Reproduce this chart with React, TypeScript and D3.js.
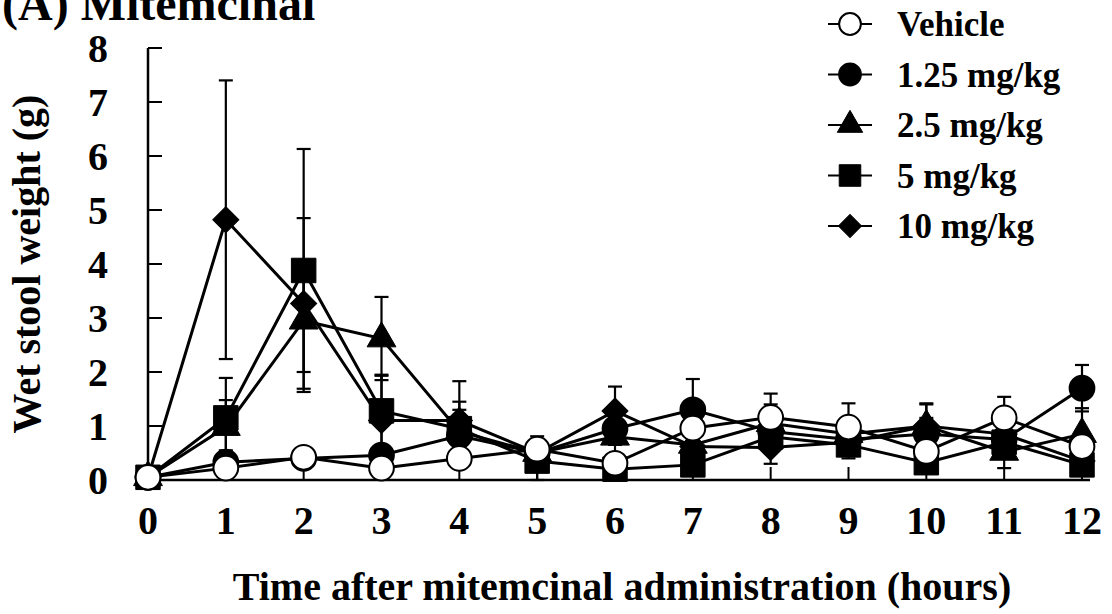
import React from "react";
import * as d3 from "d3";

const hours = [0, 1, 2, 3, 4, 5, 6, 7, 8, 9, 10, 11, 12];
const yTicks = [0, 1, 2, 3, 4, 5, 6, 7, 8];

const vehicle = [0.05, 0.22, 0.42, 0.22, 0.4, 0.57, 0.31, 0.96, 1.16, 0.98, 0.53, 1.15, 0.62];
const vehicleErr = [0.02, 0.05, 0.1, 0.05, 0.1, 0.1, 0.08, 0.1, 0.44, 0.44, 0.1, 0.39, 0.1];

const dose125 = [0.05, 0.33, 0.4, 0.46, 0.82, 0.5, 0.95, 1.3, 0.9, 0.75, 0.85, 0.75, 1.7];
const dose125Err = [0.02, 0.22, 0.1, 0.1, 0.3, 0.1, 0.3, 0.57, 0.3, 0.3, 0.3, 0.3, 0.43];

const dose25 = [0.05, 0.98, 2.95, 2.62, 0.9, 0.5, 0.8, 0.65, 1.05, 0.85, 1.0, 0.52, 0.85];
const dose25Err = [0.02, 0.5, 0.95, 0.77, 0.4, 0.2, 0.4, 0.3, 0.35, 0.3, 0.42, 0.3, 0.48];

const dose5 = [0.05, 1.15, 3.88, 1.28, 0.95, 0.35, 0.2, 0.28, 0.8, 0.65, 0.32, 0.7, 0.28];
const dose5Err = [0.02, 0.74, 2.25, 0.65, 0.5, 0.46, 0.1, 0.1, 0.3, 0.2, 0.1, 0.3, 0.1];

const dose10 = [0.05, 4.82, 3.27, 1.1, 1.1, 0.5, 1.28, 0.62, 0.6, 0.7, 1.0, 0.85, 0.35];
const dose10Err = [0.02, 2.58, 1.58, 0.85, 0.73, 0.2, 0.45, 0.3, 0.3, 0.3, 0.4, 0.3, 0.1];

const seriesNames = ["Vehicle", "1.25 mg/kg", "2.5 mg/kg", "5 mg/kg", "10 mg/kg"];

const font = "'Liberation Serif', 'Times New Roman', serif";

const series = [
  { name: seriesNames[0], values: vehicle, err: vehicleErr, shape: "circle", fill: "#fff" },
  { name: seriesNames[1], values: dose125, err: dose125Err, shape: "circle", fill: "#000" },
  { name: seriesNames[2], values: dose25, err: dose25Err, shape: "triangle", fill: "#000" },
  { name: seriesNames[3], values: dose5, err: dose5Err, shape: "square", fill: "#000" },
  { name: seriesNames[4], values: dose10, err: dose10Err, shape: "diamond", fill: "#000" },
];

// draw order: filled ones under the open circles
const drawOrder = [2, 4, 3, 1, 0];

const markerPath = (shape: string, scale = 1) => {
  if (shape === "circle") return d3.symbol(d3.symbolCircle, 480 * scale * scale)();
  if (shape === "square") return d3.symbol(d3.symbolSquare, 600 * scale * scale)();
  if (shape === "triangle") return d3.symbol(d3.symbolTriangle, 360 * scale * scale)();
  return d3.symbol(d3.symbolSquare, 340 * scale * scale)();
};

const Marker = ({ shape, fill, x, y, scale = 1 }: any) => (
  <path
    d={markerPath(shape, scale) || ""}
    transform={`translate(${x},${y})${shape === "diamond" ? " rotate(45)" : ""}`}
    fill={fill}
    stroke="#000"
    strokeWidth={shape === "circle" ? 2 : 1}
  />
);

export default function App() {
  const x = d3.scaleLinear().domain([0, 12]).range([148, 1082]);
  const y = d3.scaleLinear().domain([0, 8]).range([480, 48]);
  const line = d3
    .line<number>()
    .x((_, i) => x(hours[i]))
    .y((d) => y(d));

  return (
    <svg
      width={1112}
      height={614}
      style={{ position: "absolute", left: 0, top: 0, background: "#fff" }}
      fontFamily={font}
      fontWeight="bold"
    >
      <text x={2} y={20} fontSize={48}>(A) Mitemcinal</text>

      {/* axes */}
      <line x1={x(0)} x2={x(0)} y1={y(8)} y2={y(0)} stroke="#000" strokeWidth={2.5} />
      <line x1={x(0)} x2={1090} y1={y(0)} y2={y(0)} stroke="#000" strokeWidth={2.5} />
      {yTicks.map((t) => (
        <g key={"y" + t}>
          <line x1={x(0)} x2={x(0) + 14} y1={y(t)} y2={y(t)} stroke="#000" strokeWidth={2} />
          <text x={108} y={y(t)} dy="0.35em" textAnchor="end" fontSize={40}>{t}</text>
        </g>
      ))}
      {hours.map((h) => (
        <g key={"x" + h}>
          <line x1={x(h)} x2={x(h)} y1={y(0)} y2={y(0) - 13} stroke="#000" strokeWidth={2} />
          <text x={x(h)} y={534} textAnchor="middle" fontSize={40}>{h}</text>
        </g>
      ))}
      <text x={622} y={600} textAnchor="middle" fontSize={40}>
        Time after mitemcinal administration (hours)
      </text>
      <text transform={`translate(40,${y(4)}) rotate(-90)`} textAnchor="middle" fontSize={40}>
        Wet stool weight (g)
      </text>

      {/* lines */}
      {series.map((s) => (
        <path key={"l" + s.name} d={line(s.values) || ""} fill="none" stroke="#000" strokeWidth={3} />
      ))}

      {/* error bars */}
      {series.map((s) =>
        s.values.map((v, i) => {
          const hi = y(v + s.err[i]);
          const lo = y(Math.max(0, v - s.err[i]));
          return (
            <g key={"e" + s.name + i} stroke="#000" strokeWidth={2.2}>
              <line x1={x(hours[i])} x2={x(hours[i])} y1={hi} y2={lo} />
              <line x1={x(hours[i]) - 7} x2={x(hours[i]) + 7} y1={hi} y2={hi} />
              <line x1={x(hours[i]) - 7} x2={x(hours[i]) + 7} y1={lo} y2={lo} />
            </g>
          );
        })
      )}

      {/* markers */}
      {drawOrder.map((k) =>
        series[k].values.map((v, i) => (
          <Marker key={"m" + k + i} shape={series[k].shape} fill={series[k].fill} x={x(hours[i])} y={y(v)} />
        ))
      )}

      {/* legend */}
      {series.map((s, i) => {
        const ly = 24 + i * 50.5;
        return (
          <g key={"lg" + s.name}>
            <line x1={828} x2={872} y1={ly} y2={ly} stroke="#000" strokeWidth={2} />
            <Marker shape={s.shape} fill={s.fill} x={850} y={ly} scale={0.88} />
            <text x={897} y={ly} dy="0.35em" fontSize={35}>{s.name}</text>
          </g>
        );
      })}
    </svg>
  );
}
